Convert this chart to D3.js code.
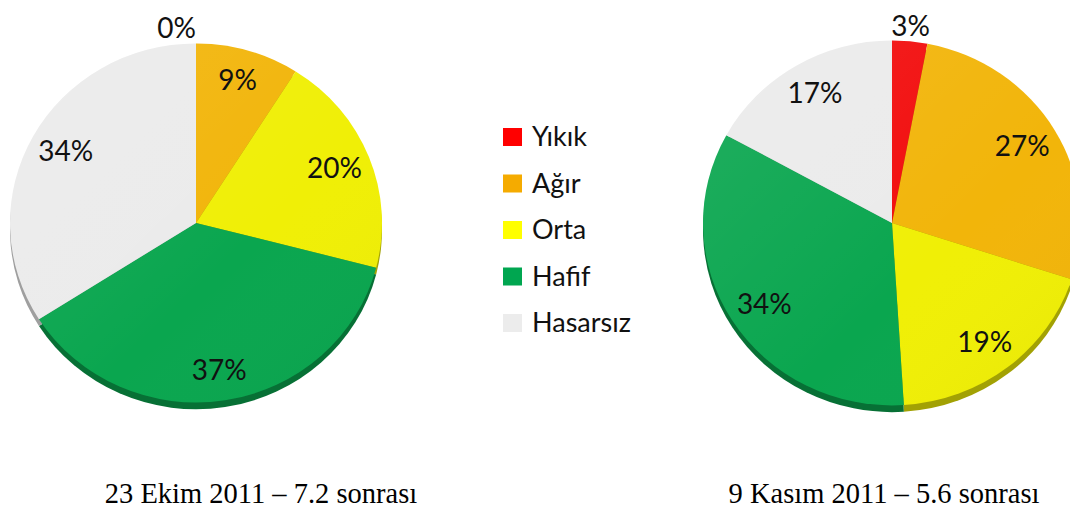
<!DOCTYPE html>
<html>
<head>
<meta charset="utf-8">
<script src="https://cdn.jsdelivr.net/npm/d3@7"></script>
<style>
  body { margin: 0; background: #fff; }
  svg { display: block; }
</style>
</head>
<body>
<svg id="chart" width="1070" height="521"></svg>
<script>
// categories and colours of the legend
var categories = ['Yıkık', 'Ağır', 'Orta', 'Hafif', 'Hasarsız'];
var colors = ['#f20d0d', '#f2b50a', '#f0ef06', '#0aa64f', '#ebebeb'];
var legendColors = ['#ff0000', '#f5ab00', '#ffff00', '#00a650', '#ececec'];

// percentage values per date
var ekimValues = [0, 9, 20, 37, 34];
var kasimValues = [3, 27, 19, 34, 17];

var titles = ['23 Ekim 2011 – 7.2 sonrası', '9 Kasım 2011 – 5.6 sonrası'];

var svg = d3.select('#chart');
var defs = svg.append('defs');

// light sheen over the pies
var sheen = defs.append('linearGradient')
    .attr('id', 'sheen')
    .attr('x1', '0').attr('y1', '0').attr('x2', '1').attr('y2', '1');
sheen.append('stop').attr('offset', '0%').attr('stop-color', '#fff').attr('stop-opacity', 0.1);
sheen.append('stop').attr('offset', '60%').attr('stop-color', '#fff').attr('stop-opacity', 0);
sheen.append('stop').attr('offset', '100%').attr('stop-color', '#000').attr('stop-opacity', 0.04);

var pie = d3.pie().sort(null).value(d => d);

function drawPie(values, cx, cy, r) {
  var arcs = pie(values);
  var arc = d3.arc().innerRadius(0).outerRadius(r);
  var labelArc = d3.arc().innerRadius(r * 0.8).outerRadius(r * 0.8);
  var outerArc = d3.arc().innerRadius(r * 1.04).outerRadius(r * 1.04);

  var g = svg.append('g')
      .attr('transform', 'translate(' + cx + ',' + cy + ')');

  var body = g.append('g').attr('transform', 'scale(1,0.965)');

  // depth (3D edge)
  body.append('g')
      .attr('transform', 'translate(0,7)')
    .selectAll('path')
    .data(arcs)
    .enter().append('path')
      .attr('d', arc)
      .attr('fill', (d, i) => d3.color(colors[i]).darker(1.1));

  body.append('g')
    .selectAll('path')
    .data(arcs)
    .enter().append('path')
      .attr('d', arc)
      .attr('fill', (d, i) => colors[i]);

  body.append('circle')
      .attr('r', r)
      .attr('fill', 'url(#sheen)');

  g.selectAll('text.lbl')
    .data(arcs)
    .enter().append('text')
      .attr('class', 'lbl')
      .attr('transform', d => {
        var p = d.value < 5 ? outerArc.centroid(d) : labelArc.centroid(d);
        if (d.value < 5) p[1] -= 1;
        return 'translate(' + p + ')';
      })
      .attr('text-anchor', d => d.value === 0 ? 'end' : 'middle')
      .attr('dy', '0.35em')
      .style('font-family', 'Lato, "Open Sans", sans-serif')
      .style('font-size', '28px')
      .style('fill', '#111')
      .text(d => d.value + '%');
}

drawPie(ekimValues, 196, 223, 186);
drawPie(kasimValues, 892, 223, 189);

// legend
var legend = svg.append('g').attr('transform', 'translate(503,128)');
var item = legend.selectAll('g')
    .data(categories)
    .enter().append('g')
      .attr('transform', (d, i) => 'translate(0,' + (i * 46.5) + ')');
item.append('rect')
    .attr('width', 19)
    .attr('height', 18)
    .attr('fill', (d, i) => legendColors[i]);
item.append('text')
    .attr('x', 29)
    .attr('y', 18)
    .style('font-family', 'Lato, "Open Sans", sans-serif')
    .style('font-size', '27px')
    .style('fill', '#111')
    .text(d => d);

// captions
svg.selectAll('text.title')
  .data(titles)
  .enter().append('text')
    .attr('class', 'title')
    .attr('x', (d, i) => i === 0 ? 261 : 884)
    .attr('y', 503)
    .attr('text-anchor', 'middle')
    .style('font-family', '"Liberation Serif", "Times New Roman", serif')
    .style('font-size', '28.5px')
    .style('fill', '#000')
    .text(d => d);
</script>
</body>
</html>
